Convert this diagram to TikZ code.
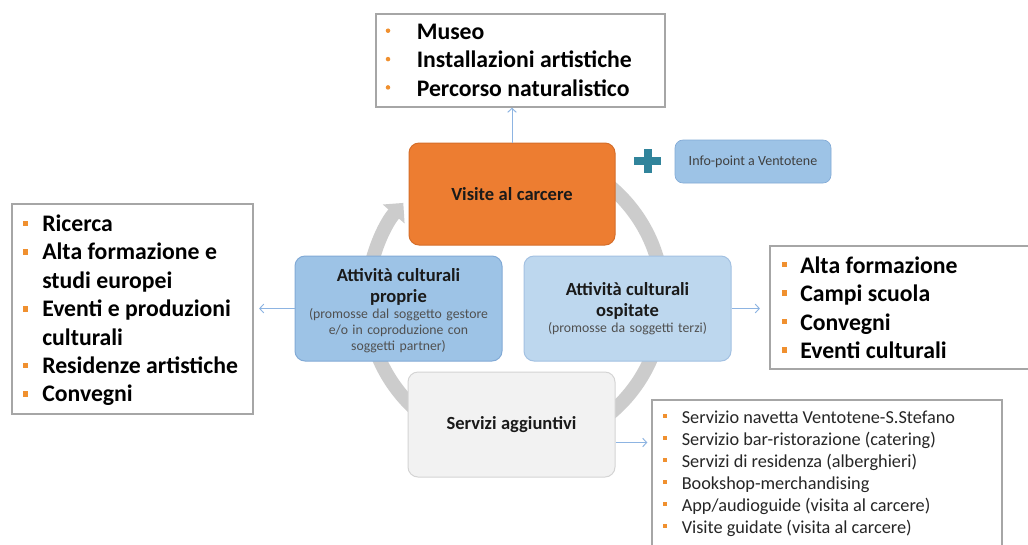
\documentclass[tikz,border=0pt]{standalone}
\usepackage{fontspec}
\setmainfont{Carlito}
\usetikzlibrary{arrows.meta,fit,calc}

\definecolor{visitorange}{HTML}{ED7D31}
\definecolor{visitline}{HTML}{D56E2A}
\definecolor{ownblue}{HTML}{9DC3E6}
\definecolor{ownline}{HTML}{82AAD6}
\definecolor{hostblue}{HTML}{BDD7EE}
\definecolor{hostline}{HTML}{A3C1E2}
\definecolor{svcfill}{HTML}{F2F2F2}
\definecolor{svcline}{HTML}{D4D4D4}
\definecolor{ringgrey}{HTML}{CCCCCC}
\definecolor{plusteal}{HTML}{31849B}
\definecolor{linkblue}{HTML}{8DB4E2}
\definecolor{framegrey}{HTML}{A6A6A6}
\definecolor{bulletorange}{HTML}{F0902F}
\definecolor{titleink}{HTML}{1A1A1A}
\definecolor{noteink}{HTML}{505050}

\newcommand\stagefont{\fontsize{13.9}{15.75}\selectfont\bfseries}
\newcommand\notefont{\fontsize{10.3}{12}\selectfont\color{noteink}}

\tikzset{
  stage/.style={rounded corners=7.5pt, inner sep=0pt, line width=0.75pt},
  stagetext/.style={inner sep=0pt, text width=152pt, align=center, text=titleink},
  listframe/.style={draw=framegrey, line width=1.1pt, fill=white, inner sep=0pt},
  bigitem/.style={anchor=base west, inner sep=0pt,
    font=\fontsize{17.8}{21}\selectfont\bfseries, text=black},
  smallitem/.style={anchor=base west, inner sep=0pt,
    font=\fontsize{13.7}{16}\selectfont, text=black!85},
  sqbullet/.style={rectangle, fill=bulletorange, inner sep=0pt, minimum size=3.8pt},
  smallsq/.style={rectangle, fill=bulletorange, inner sep=0pt, minimum size=3pt},
  dotbullet/.style={circle, fill=bulletorange, inner sep=0pt, minimum size=3.4pt},
  link/.style={draw=linkblue, line width=0.7pt,
    -{Straight Barb[length=3pt,width=6.5pt]}},
  ring/.style={draw=ringgrey, line width=10.5pt,
    -{Triangle[length=11pt,width=21pt]}},
}

\begin{document}
\begin{tikzpicture}[x=0.75pt,y=-0.75pt]
\useasboundingbox (0,0) rectangle (1028,544);
\fill[white] (0,0) rectangle (1028,544);
\clip (0,0) rectangle (1028,544);

% circular arrow behind the four stages
\coordinate (ringc) at (515,300);
\draw[ring] (ringc) ++(-80:148) arc[start angle=-80, end angle=221, radius=148];

% the four stages
\node[stage, fill=visitorange, draw=visitline, fit={(409,143) (615,245)}] (visit) {};
\node[stagetext] (visitt) at (visit.center) {\stagefont Visite al carcere};

\node[stage, fill=ownblue, draw=ownline, fit={(295,256) (502,361)}] (own) {};
\node[stagetext] (ownt) at ([yshift=-1.5pt]own.center)
  {{\stagefont Attività culturali\\proprie\par}
   {\notefont (promosse dal soggetto gestore\\e/o in coproduzione con\\soggetti partner)\par}};

\node[stage, fill=hostblue, draw=hostline, fit={(524,256) (731,361)}] (host) {};
\node[stagetext] (hostt) at (host.center)
  {{\stagefont Attività culturali\\ospitate\par}
   {\notefont (promosse da soggetti terzi)\par}};

\node[stage, fill=svcfill, draw=svcline, fit={(408,372) (615,477)}] (svc) {};
\node[stagetext] (svct) at (svc.center) {\stagefont Servizi aggiuntivi};

% info point with plus sign
\draw[plusteal, line width=6pt] (634,161) -- (661,161);
\draw[plusteal, line width=6pt] (647.5,149) -- (647.5,173);
\node[rounded corners=6pt, fill=ownblue, draw=ownline, line width=0.5pt,
      inner sep=0pt, fit={(675,140) (831,183)}] (info) {};
\node[inner sep=0pt, font=\fontsize{10.5}{12}\selectfont, text=black!75]
  (infot) at (info.center) {Info-point a Ventotene};

% list: visits
\node[listframe, fit={(376,14) (665,107)}] (toplist) {};
\foreach \y/\t [count=\i] in {39.3/Museo, 67.7/Installazioni artistiche,
                               96/Percorso naturalistico} {
  \node[bigitem] (top\i) at (416.5,\y) {\t};
  \node[dotbullet] (topb\i) at (388,\y-8.6) {};
}

% list: own cultural activities
\node[listframe, fit={(12,204) (253,414)}] (ownlist) {};
\foreach \y/\t/\b [count=\i] in {231/Ricerca/1, 259.5/Alta formazione e/1,
    288/studi europei/0, 316.5/Eventi e produzioni/1, 345/culturali/0,
    373/Residenze artistiche/1, 401.5/Convegni/1} {
  \node[bigitem] (own\i) at (42,\y) {\t};
  \ifnum\b=1 \node[sqbullet] (ownb\i) at (25.5,\y-7.5) {}; \fi
}

% list: hosted cultural activities
\node[listframe, fit={(770,246) (1040,369)}] (hostlist) {};
\foreach \y/\t [count=\i] in {273/Alta formazione, 301.5/Campi scuola,
                               330/Convegni, 358.5/Eventi culturali} {
  \node[bigitem] (host\i) at (800,\y) {\t};
  \node[sqbullet] (hostb\i) at (784.5,\y-8.5) {};
}

% list: additional services
\node[listframe, fit={(652,400) (1002,570)}] (svclist) {};
\foreach \y/\t [count=\i] in {423/Servizio navetta Ventotene-S.Stefano,
    445/{Servizio bar-ristorazione (catering)},
    467/{Servizi di residenza (alberghieri)},
    489/Bookshop-merchandising,
    511/{App/audioguide (visita al carcere)},
    533/{Visite guidate (visita al carcere)}} {
  \node[smallitem] (svc\i) at (681.5,\y) {\t};
  \node[smallsq] (svcb\i) at (665,\y-7) {};
}

% connectors from the stages to their lists
\draw[link] (visit.north) -- (visit.north |- toplist.south);
\draw[link, shorten >=4pt] (own.west) -- (own.west -| ownlist.east);
\draw[link, shorten >=7pt] (host.east) -- (host.east -| hostlist.west);
\coordinate (svcout) at ($(svc.east)+(0,18)$);
\draw[link, shorten >=3pt] (svcout) -- (svcout -| svclist.west);
\end{tikzpicture}
\end{document}
